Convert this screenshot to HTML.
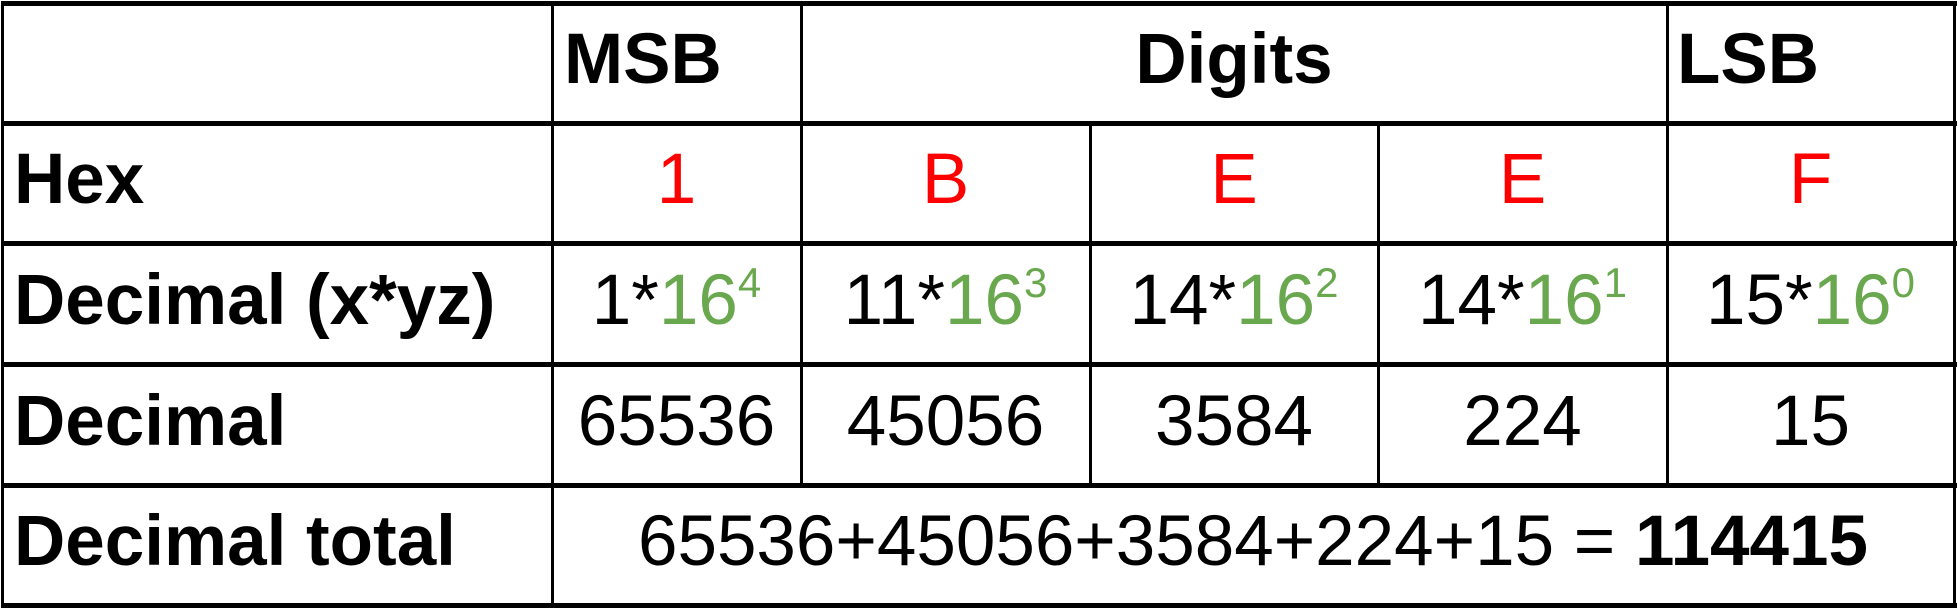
<!DOCTYPE html>
<html><head><meta charset="utf-8"><style>
html,body{margin:0;padding:0;background:#fff;}
#t{position:relative;width:1958px;height:608px;font-family:"Liberation Sans",Arial,sans-serif;overflow:hidden;}
.h,.v{position:absolute;background:#000;}
.h{height:5px;left:1px;width:1956px;}
.v{width:3px;}
.c{position:absolute;display:flex;align-items:center;justify-content:center;font-size:71px;padding-bottom:8px;box-sizing:border-box;white-space:nowrap;color:#000;}
.l{justify-content:flex-start;padding-left:12px;}
.b{font-weight:bold;}
.r{color:#ff0000;}
.g{color:#6aa84f;}
sup{font-size:42px;vertical-align:0;position:relative;top:-27px;}
</style></head><body>
<div id="t">
<div class="h" style="top:1px"></div>
<div class="h" style="top:121px"></div>
<div class="h" style="top:241px"></div>
<div class="h" style="top:362px"></div>
<div class="h" style="top:483px"></div>
<div class="h" style="top:603px"></div>
<div class="v" style="left:1px;top:1px;height:607px"></div>
<div class="v" style="left:551px;top:1px;height:607px"></div>
<div class="v" style="left:800px;top:1px;height:484px"></div>
<div class="v" style="left:1089px;top:121px;height:364px"></div>
<div class="v" style="left:1377px;top:121px;height:364px"></div>
<div class="v" style="left:1666px;top:1px;height:484px"></div>
<div class="v" style="left:1953px;top:1px;height:607px"></div>

<div class="c b" style="left:552px;top:4px;width:249px;height:119px;justify-content:flex-start;padding-left:12px">MSB</div>
<div class="c b" style="left:801px;top:4px;width:866px;height:119px">Digits</div>
<div class="c b" style="left:1667px;top:4px;width:287px;height:119px;justify-content:flex-start;padding-left:10px">LSB</div>

<div class="c l b" style="left:2px;top:124px;width:550px;height:119px">Hex</div>
<div class="c r" style="left:552px;top:124px;width:249px;height:119px">1</div>
<div class="c r" style="left:801px;top:124px;width:289px;height:119px">B</div>
<div class="c r" style="left:1090px;top:124px;width:288px;height:119px">E</div>
<div class="c r" style="left:1378px;top:124px;width:289px;height:119px">E</div>
<div class="c r" style="left:1667px;top:124px;width:287px;height:119px">F</div>

<div class="c l b" style="left:2px;top:244px;width:550px;height:120px">Decimal (x*yz)</div>
<div class="c" style="left:552px;top:244px;width:249px;height:120px">1*<span class="g">16<sup>4</sup></span></div>
<div class="c" style="left:801px;top:244px;width:289px;height:120px">11*<span class="g">16<sup>3</sup></span></div>
<div class="c" style="left:1090px;top:244px;width:288px;height:120px">14*<span class="g">16<sup>2</sup></span></div>
<div class="c" style="left:1378px;top:244px;width:289px;height:120px">14*<span class="g">16<sup>1</sup></span></div>
<div class="c" style="left:1667px;top:244px;width:287px;height:120px">15*<span class="g">16<sup>0</sup></span></div>

<div class="c l b" style="left:2px;top:365px;width:550px;height:120px">Decimal</div>
<div class="c" style="left:552px;top:365px;width:249px;height:120px">65536</div>
<div class="c" style="left:801px;top:365px;width:289px;height:120px">45056</div>
<div class="c" style="left:1090px;top:365px;width:288px;height:120px">3584</div>
<div class="c" style="left:1378px;top:365px;width:289px;height:120px">224</div>
<div class="c" style="left:1667px;top:365px;width:287px;height:120px">15</div>

<div class="c l b" style="left:2px;top:486px;width:550px;height:119px">Decimal total</div>
<div class="c" style="left:552px;top:486px;width:1402px;height:119px">65536+45056+3584+224+15 =&nbsp;<b>114415</b></div>
</div>
</body></html>
